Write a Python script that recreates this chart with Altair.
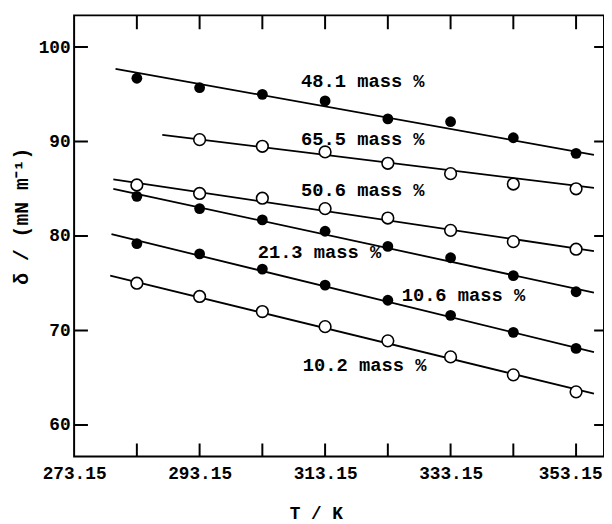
import altair as alt
import pandas as pd

# ---------------- data ----------------
temps = [283.15, 293.15, 303.15, 313.15, 323.15, 333.15, 343.15, 353.15]

series_names = ["48.1", "65.5", "50.6", "21.3", "10.6", "10.2"]
series_filled = [True, False, False, True, True, False]

s48_1 = [96.7, 95.7, 95.0, 94.3, 92.4, 92.1, 90.4, 88.75]
s65_5 = [None, 90.2, 89.5, 88.9, 87.7, 86.6, 85.5, 85.0]
s50_6 = [85.4, 84.5, 84.0, 82.9, 81.9, 80.6, 79.4, 78.6]
s21_3 = [84.2, 82.9, 81.7, 80.5, 78.9, 77.7, 75.8, 74.1]
s10_6 = [79.2, 78.1, 76.5, 74.8, 73.2, 71.6, 69.8, 68.1]
s10_2 = [75.0, 73.6, 72.0, 70.4, 68.9, 67.2, 65.3, 63.5]
series_values = [s48_1, s65_5, s50_6, s21_3, s10_6, s10_2]

# straight fitted lines (start / end)
line_start_T = [279.75, 287.2, 279.4, 279.4, 279.1, 278.9]
line_start_v = [97.7, 90.7, 86.0, 85.0, 80.2, 75.8]
line_end_T = [356.0, 356.0, 356.0, 356.0, 356.0, 356.0]
line_end_v = [88.6, 85.1, 78.4, 74.0, 67.7, 63.3]

label_text = ["48.1 mass %", "65.5 mass %", "50.6 mass %",
              "21.3 mass %", "10.6 mass %", "10.2 mass %"]
label_T = [309.3, 309.3, 309.3, 302.4, 325.35, 309.6]
label_v = [96.45, 90.3, 84.85, 78.3, 73.7, 66.3]

x_label_values = [273.15, 293.15, 313.15, 333.15, 353.15]
x_tick_values = [283.15, 293.15, 303.15, 313.15, 323.15, 333.15, 343.15, 353.15]
y_tick_values = [60, 70, 80, 90, 100]

x_domain = [273.15, 357.6]
y_domain = [56.66, 103.36]

FONT = "Liberation Mono"

# ---------------- tables ----------------
pts = []
for name, filled, vals in zip(series_names, series_filled, series_values):
    for t, v in zip(temps, vals):
        if v is not None:
            pts.append({"series": name, "filled": filled, "T": t, "v": v})
pts = pd.DataFrame(pts)

lines = []
for name, t0, v0, t1, v1 in zip(series_names, line_start_T, line_start_v, line_end_T, line_end_v):
    lines.append({"series": name, "T": t0, "v": v0})
    lines.append({"series": name, "T": t1, "v": v1})
lines = pd.DataFrame(lines)

labels = pd.DataFrame({"text": label_text, "T": label_T, "v": label_v})
xt = pd.DataFrame({"T": x_tick_values})
yt = pd.DataFrame({"v": y_tick_values})

xscale = alt.Scale(domain=x_domain, nice=False, zero=False)
yscale = alt.Scale(domain=y_domain, nice=False, zero=False)

xaxis = alt.Axis(values=x_label_values, format=".2f", ticks=False, domain=False, grid=False,
                 labelFont=FONT, labelFontWeight="bold", labelFontSize=18, labelColor="black",
                 labelPadding=8, labelFlush=False, labelOverlap=False,
                 labelOffset={"condition": {"test": "datum.value > 350", "value": -6}, "value": 0},
                 title="T / K", titleFont=FONT, titleFontWeight="bold", titleFontSize=18,
                 titleColor="black", titleX=245, titleY=58, titleAlign="center",
                 titleBaseline="middle")
yaxis = alt.Axis(values=y_tick_values, ticks=False, domain=False, grid=False,
                 labelFont=FONT, labelFontWeight="bold", labelFontSize=18, labelColor="black",
                 labelPadding=4, labelFlush=False,
                 title="δ / (mN m⁻¹)", titleFont=FONT, titleFontWeight="bold", titleFontSize=20,
                 titleColor="black", titleX=-53, titleY=203, titleAngle=270,
                 titleAlign="center", titleBaseline="middle")

line_layer = alt.Chart(lines).mark_line(color="black", strokeWidth=1.8).encode(
    x=alt.X("T:Q", scale=xscale, axis=xaxis),
    y=alt.Y("v:Q", scale=yscale, axis=yaxis),
    detail="series:N",
)

filled_layer = alt.Chart(pts[pts["filled"]]).mark_point(
    filled=True, color="black", size=120, shape="circle", opacity=1
).encode(x="T:Q", y="v:Q")

open_layer = alt.Chart(pts[~pts["filled"]]).mark_point(
    filled=True, fill="white", stroke="black", strokeWidth=1.6, size=140, shape="circle", opacity=1
).encode(x="T:Q", y="v:Q")

text_layer = alt.Chart(labels).mark_text(
    font=FONT, fontWeight="bold", fontSize=19, align="left", baseline="middle", color="black"
).encode(x="T:Q", y="v:Q", text="text:N")

bottom_ticks = alt.Chart(xt).mark_tick(orient="vertical", size=26, thickness=2, color="black",
                                       clip=True, opacity=1).encode(
    x="T:Q", y=alt.datum(y_domain[0]))
top_ticks = alt.Chart(xt).mark_tick(orient="vertical", size=28, thickness=2, color="black",
                                    clip=True, opacity=1).encode(
    x="T:Q", y=alt.datum(y_domain[1]))
left_ticks = alt.Chart(yt).mark_tick(orient="horizontal", size=28, thickness=2, color="black",
                                     clip=True, opacity=1).encode(
    y="v:Q", x=alt.datum(x_domain[0]))
right_ticks = alt.Chart(yt).mark_tick(orient="horizontal", size=20, thickness=2, color="black",
                                      clip=True, opacity=1).encode(
    y="v:Q", x=alt.datum(x_domain[1]))

chart = alt.layer(
    line_layer, bottom_ticks, top_ticks, left_ticks, right_ticks,
    open_layer, filled_layer, text_layer
).properties(
    width=537, height=447,
    autosize=alt.AutoSizeParams(type="none"),
    padding={"left": 67, "top": 4, "right": 0, "bottom": 65},
    background="white",
).configure_view(stroke="black", strokeWidth=2)

chart.save("out.html", embed_options={"renderer": "svg", "actions": False})
